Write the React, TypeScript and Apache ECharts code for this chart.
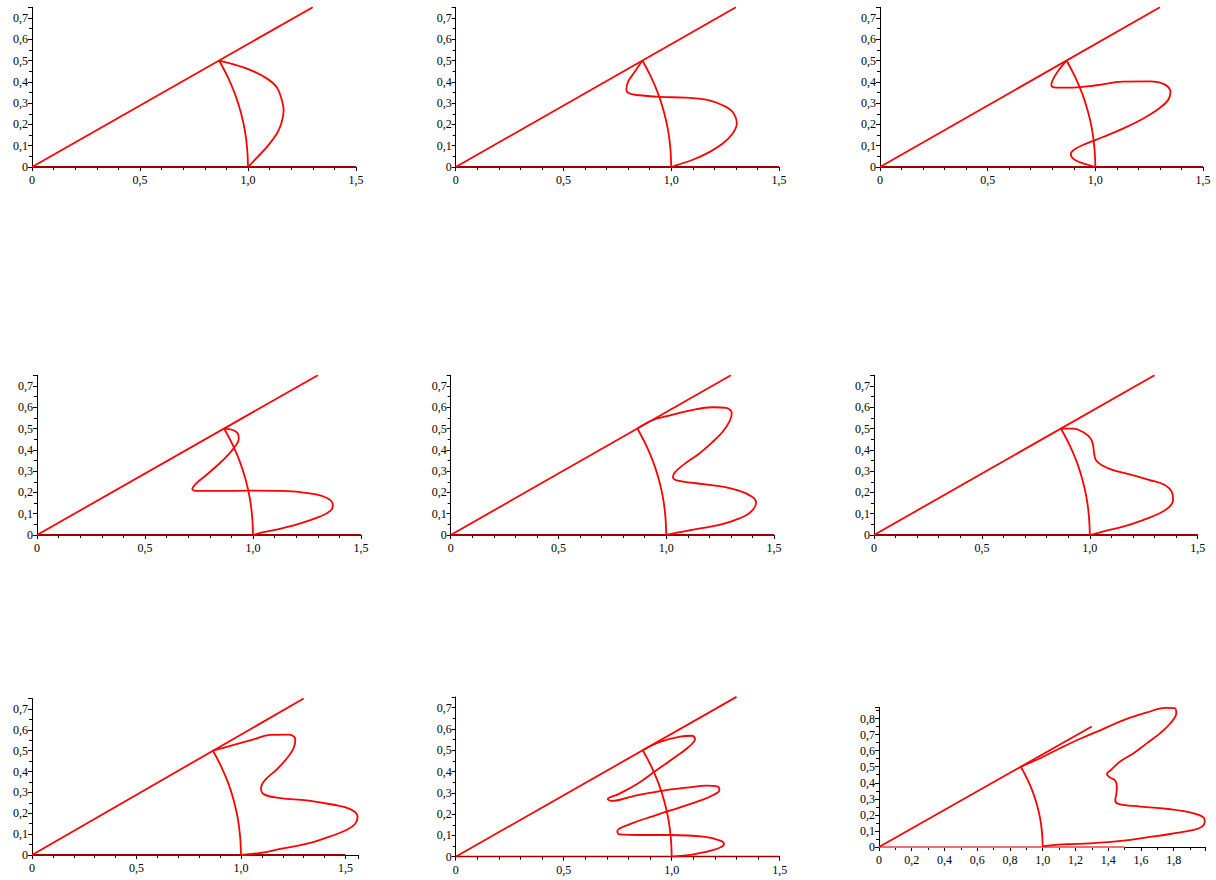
import React, { useEffect, useRef } from "react";
import * as echarts from "echarts";

// Shared geometry
const basePoints = [[0, 0], [1.5, 0]];
const rayPoints = [[0, 0], [1.3, 0.7506]];
const arcPoints = [
  [0.866, 0.5], [0.906, 0.423], [0.94, 0.342], [0.966, 0.259],
  [0.985, 0.174], [0.996, 0.087], [1, 0],
];

// Curves, one per panel
const curve1 = [
  [0.866, 0.5], [0.995, 0.462], [1.088, 0.415], [1.134, 0.373], [1.157, 0.313],
  [1.165, 0.266], [1.154, 0.204], [1.134, 0.157], [1.09, 0.097], [1.045, 0.048],
  [1, 0],
];
const curve2 = [
  [0.866, 0.5], [0.83, 0.446], [0.799, 0.399], [0.792, 0.363], [0.807, 0.345],
  [0.853, 0.337], [0.946, 0.329], [1.069, 0.326], [1.162, 0.316], [1.239, 0.29],
  [1.285, 0.258], [1.304, 0.204], [1.285, 0.157], [1.239, 0.11], [1.177, 0.07],
  [1.1, 0.034], [1.039, 0.013], [1, 0],
];
const curve3 = [
  [0.866, 0.5], [0.827, 0.451], [0.801, 0.407], [0.796, 0.384], [0.819, 0.373],
  [0.896, 0.373], [1.005, 0.384], [1.128, 0.401], [1.252, 0.402], [1.321, 0.388],
  [1.349, 0.352], [1.337, 0.313], [1.291, 0.271], [1.221, 0.227], [1.128, 0.18],
  [1.036, 0.141], [0.958, 0.11], [0.904, 0.083], [0.886, 0.06], [0.904, 0.034],
  [0.958, 0.013], [1, 0],
];
const curve4 = [
  [0.866, 0.5], [0.907, 0.493], [0.931, 0.474], [0.934, 0.451], [0.92, 0.42],
  [0.889, 0.381], [0.846, 0.337], [0.784, 0.282], [0.738, 0.243], [0.719, 0.216],
  [0.745, 0.207], [0.83, 0.207], [0.985, 0.208], [1.139, 0.207], [1.262, 0.196],
  [1.34, 0.175], [1.37, 0.141], [1.358, 0.113], [1.309, 0.086], [1.216, 0.053],
  [1.108, 0.025], [1.031, 0.009], [1, 0],
];
const curve5 = [
  [0.866, 0.5], [0.938, 0.54], [1.008, 0.559], [1.108, 0.584], [1.216, 0.6],
  [1.278, 0.597], [1.304, 0.572], [1.293, 0.532], [1.262, 0.485], [1.216, 0.438],
  [1.154, 0.383], [1.085, 0.334], [1.04, 0.294], [1.031, 0.271], [1.054, 0.255],
  [1.139, 0.243], [1.247, 0.229], [1.34, 0.207], [1.398, 0.18], [1.417, 0.153],
  [1.394, 0.11], [1.34, 0.078], [1.247, 0.047], [1.139, 0.028], [1.062, 0.013],
  [1, 0],
];
const curve6 = [
  [0.866, 0.5], [0.923, 0.5], [0.977, 0.478], [1.003, 0.454], [1.015, 0.423],
  [1.02, 0.384], [1.028, 0.352], [1.054, 0.329], [1.108, 0.305], [1.185, 0.285],
  [1.278, 0.258], [1.347, 0.235], [1.381, 0.2], [1.386, 0.164], [1.37, 0.133],
  [1.324, 0.102], [1.247, 0.07], [1.154, 0.039], [1.077, 0.02], [1, 0],
];
const curve7 = [
  [0.866, 0.5], [0.965, 0.528], [1.061, 0.555], [1.14, 0.576], [1.228, 0.577],
  [1.26, 0.555], [1.252, 0.512], [1.22, 0.464], [1.172, 0.411], [1.116, 0.36],
  [1.096, 0.321], [1.108, 0.292], [1.188, 0.273], [1.316, 0.262], [1.443, 0.241],
  [1.523, 0.22], [1.558, 0.185], [1.547, 0.15], [1.507, 0.121], [1.427, 0.089],
  [1.316, 0.054], [1.188, 0.029], [1.093, 0.01], [1, 0],
];
const curve8 = [
  [0.866, 0.5], [0.946, 0.539], [1.039, 0.564], [1.093, 0.568], [1.108, 0.554],
  [1.077, 0.514], [1.008, 0.462], [0.931, 0.407], [0.838, 0.34], [0.753, 0.294],
  [0.704, 0.271], [0.722, 0.262], [0.823, 0.285], [0.946, 0.308], [1.069, 0.324],
  [1.162, 0.334], [1.213, 0.329], [1.221, 0.313], [1.193, 0.29], [1.131, 0.263],
  [1.039, 0.232], [0.915, 0.191], [0.807, 0.153], [0.748, 0.119], [0.758, 0.105],
  [0.853, 0.102], [0.992, 0.102], [1.147, 0.094], [1.228, 0.074], [1.242, 0.058],
  [1.201, 0.034], [1.1, 0.011], [1, 0],
];
const curve9 = [
  [0.866, 0.5], [0.984, 0.553], [1.106, 0.615], [1.229, 0.674], [1.371, 0.736],
  [1.494, 0.79], [1.637, 0.838], [1.749, 0.867], [1.806, 0.865], [1.816, 0.834],
  [1.78, 0.771], [1.718, 0.709], [1.637, 0.647], [1.555, 0.584], [1.473, 0.532],
  [1.422, 0.484], [1.392, 0.455], [1.408, 0.435], [1.443, 0.414], [1.453, 0.376],
  [1.449, 0.324], [1.443, 0.293], [1.463, 0.268], [1.596, 0.252], [1.78, 0.235],
  [1.922, 0.21], [1.984, 0.183], [1.99, 0.158], [1.973, 0.127], [1.922, 0.106],
  [1.78, 0.081], [1.637, 0.06], [1.494, 0.04], [1.29, 0.023], [1.147, 0.017],
  [1.008, 0.006], [1, 0],
];

const curves = [curve1, curve2, curve3, curve4, curve5, curve6, curve7, curve8, curve9];

// Axis ranges per panel
const xMaxes = [1.5, 1.5, 1.5, 1.5, 1.5, 1.5, 1.56, 1.5, 1.995];
const yMaxes = [0.75, 0.75, 0.75, 0.75, 0.75, 0.75, 0.75, 0.75, 0.87];
const xIntervals = [0.5, 0.5, 0.5, 0.5, 0.5, 0.5, 0.5, 0.5, 0.2];

// Panel placement (pixels)
const panelBoxes = [
  { left: 32, top: 7.3, width: 324, height: 159.7 },
  { left: 455.7, top: 7.3, width: 323.3, height: 159.7 },
  { left: 880, top: 7.3, width: 323, height: 159.7 },
  { left: 37, top: 375.3, width: 324, height: 159.7 },
  { left: 450.7, top: 375.3, width: 323.3, height: 159.7 },
  { left: 874, top: 375.3, width: 323.7, height: 159.7 },
  { left: 32, top: 698.6, width: 326, height: 156.4 },
  { left: 455.7, top: 697, width: 324, height: 159.7 },
  { left: 879, top: 707.3, width: 326.6, height: 139.7 },
];

const RED = "#ff0000";
const FONT = "Liberation Serif";

function fmt(interval: number) {
  return (v: number) => {
    const k = v / interval;
    if (Math.abs(k - Math.round(k)) > 1e-6) return "";
    if (Math.abs(v) < 1e-9) return "0";
    return v.toFixed(1).replace(".", ",");
  };
}

export default function App() {
  const ref = useRef<HTMLDivElement>(null);
  useEffect(() => {
    if (!ref.current) return;
    const chart = echarts.init(ref.current, undefined, { renderer: "svg" });
    const grid: any[] = [];
    const xAxis: any[] = [];
    const yAxis: any[] = [];
    const series: any[] = [];
    panelBoxes.forEach((b, i) => {
      grid.push({ ...b, containLabel: false });
      xAxis.push({
        type: "value",
        gridIndex: i,
        min: 0,
        max: xMaxes[i],
        interval: xIntervals[i],
        axisLine: { show: true, onZero: false, lineStyle: { color: "#000", width: 1 } },
        axisTick: { show: true, inside: false, length: 4, lineStyle: { color: "#000" } },
        minorTick: { show: true, splitNumber: i === 8 ? 2 : 5, length: 3, lineStyle: { color: "#000" } },
        splitLine: { show: false },
        axisLabel: {
          show: true,
          margin: 7,
          color: "#000",
          fontFamily: FONT,
          fontSize: 12,
          formatter: fmt(xIntervals[i]),
        },
      });
      yAxis.push({
        type: "value",
        gridIndex: i,
        min: 0,
        max: yMaxes[i],
        interval: 0.1,
        axisLine: { show: true, onZero: false, lineStyle: { color: "#000", width: 1 } },
        axisTick: { show: true, inside: false, length: 4, lineStyle: { color: "#000" } },
        minorTick: { show: true, splitNumber: 2, length: 3, lineStyle: { color: "#000" } },
        splitLine: { show: false },
        axisLabel: {
          show: true,
          margin: 4,
          color: "#000",
          fontFamily: FONT,
          fontSize: 12,
          formatter: fmt(0.1),
        },
      });
      const common = {
        type: "line",
        xAxisIndex: i,
        yAxisIndex: i,
        showSymbol: false,
        symbol: "none",
        silent: true,
      };
      series.push({
        ...common,
        data: basePoints,
        lineStyle: { color: i === 8 ? "#f07070" : "#a00000", width: 1.8 },
      });
      series.push({ ...common, data: rayPoints, lineStyle: { color: RED, width: 1.8 } });
      series.push({ ...common, data: arcPoints, smooth: 0.4, lineStyle: { color: RED, width: 1.8 } });
      series.push({ ...common, data: curves[i], smooth: 0.4, lineStyle: { color: RED, width: 1.8 } });
    });
    chart.setOption({
      animation: false,
      backgroundColor: "#fff",
      grid,
      xAxis,
      yAxis,
      series,
    });
    return () => chart.dispose();
  }, []);
  return (
    <div
      ref={ref}
      style={{ position: "absolute", left: 0, top: 0, width: 1216, height: 880 }}
    />
  );
}
